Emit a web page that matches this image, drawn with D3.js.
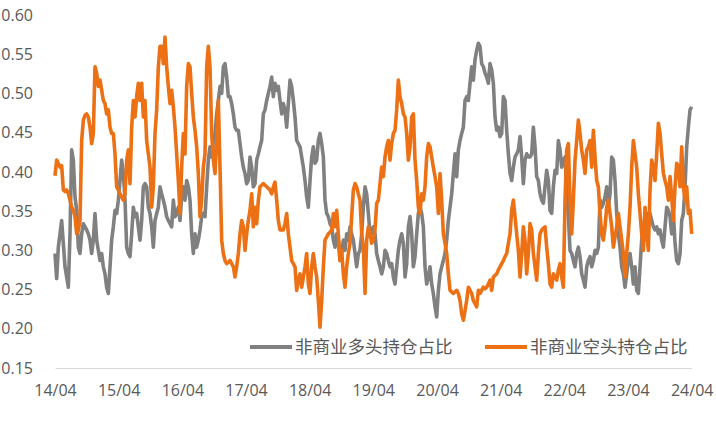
<!DOCTYPE html>
<html>
<head>
<meta charset="utf-8">
<script src="https://cdn.jsdelivr.net/npm/d3@7"></script>
<style>
  body { margin: 0; background: #fff; }
  text { font-family: "Open Sans", "Noto Sans CJK SC", sans-serif; fill: #595959; }
</style>
</head>
<body>
<div id="chart"></div>
<script>
// series: share of non-commercial long / short positions, evenly spaced from 2014-04 to 2024-04
const seriesNames = ["非商业多头持仓占比", "非商业空头持仓占比"];
const firstDate = "2014-04-01";
const lastDate = "2024-04-01";

const longShare = [
  0.296, 0.264, 0.304, 0.321, 0.338, 0.309, 0.279, 0.266, 0.253, 0.321,
  0.428, 0.415, 0.368, 0.351, 0.304, 0.296, 0.321, 0.334, 0.330, 0.326,
  0.321, 0.313, 0.296, 0.313, 0.347, 0.313, 0.300, 0.287, 0.296, 0.279,
  0.270, 0.253, 0.245, 0.279, 0.313, 0.330, 0.351, 0.347, 0.364, 0.389,
  0.415, 0.398, 0.364, 0.304, 0.296, 0.292, 0.321, 0.355, 0.343, 0.347,
  0.330, 0.313, 0.338, 0.381, 0.385, 0.381, 0.355, 0.347, 0.330, 0.304,
  0.338, 0.347, 0.355, 0.381, 0.372, 0.364, 0.355, 0.343, 0.338, 0.334,
  0.330, 0.364, 0.343, 0.347, 0.355, 0.338, 0.368, 0.381, 0.364, 0.389,
  0.381, 0.364, 0.321, 0.296, 0.321, 0.304, 0.313, 0.326, 0.343, 0.347,
  0.343, 0.381, 0.415, 0.432, 0.419, 0.440, 0.449, 0.474, 0.491, 0.509,
  0.500, 0.534, 0.538, 0.521, 0.496, 0.496, 0.487, 0.474, 0.457, 0.453,
  0.453, 0.436,
  0.419, 0.406, 0.398, 0.385, 0.389, 0.419, 0.406, 0.381, 0.385, 0.415,
  0.423, 0.432, 0.440, 0.474, 0.479, 0.491, 0.500, 0.509, 0.521, 0.496,
  0.513, 0.504, 0.509, 0.491, 0.474, 0.487, 0.479, 0.457, 0.487, 0.517,
  0.509, 0.491, 0.470, 0.440, 0.436, 0.432, 0.419, 0.406, 0.389, 0.368,
  0.355, 0.389, 0.419, 0.432, 0.411, 0.415, 0.440, 0.449, 0.436, 0.419,
  0.364, 0.347, 0.343, 0.334, 0.330, 0.313, 0.304, 0.321, 0.313, 0.287,
  0.296, 0.313, 0.300, 0.321, 0.313, 0.330, 0.321, 0.313, 0.296, 0.279,
  0.296, 0.300, 0.321, 0.355, 0.381, 0.372, 0.347, 0.321, 0.321, 0.330,
  0.321, 0.296, 0.287, 0.279, 0.270, 0.279, 0.300, 0.296, 0.287, 0.279,
  0.283, 0.266, 0.257, 0.279, 0.300, 0.313, 0.321, 0.309, 0.266, 0.283,
  0.330, 0.343, 0.321, 0.279, 0.292, 0.321, 0.347, 0.355, 0.347, 0.330,
  0.279, 0.257, 0.266, 0.279, 0.257, 0.245, 0.228, 0.215, 0.249, 0.270,
  0.279, 0.287, 0.296, 0.313, 0.338, 0.355, 0.372, 0.398, 0.423, 0.394,
  0.428, 0.440, 0.449, 0.457, 0.491, 0.496, 0.491, 0.513,
  0.534, 0.517, 0.543, 0.555, 0.564, 0.560, 0.538, 0.534, 0.526, 0.521,
  0.513, 0.538, 0.530, 0.513, 0.470, 0.453, 0.457, 0.445, 0.449, 0.496,
  0.491, 0.453, 0.423, 0.398, 0.389, 0.406, 0.419, 0.423, 0.428, 0.445,
  0.419, 0.385, 0.415, 0.423, 0.419, 0.419, 0.423, 0.457, 0.432, 0.394,
  0.389, 0.372, 0.364, 0.360, 0.381, 0.402, 0.389, 0.351, 0.347, 0.381,
  0.402, 0.398, 0.440, 0.428, 0.406, 0.415, 0.419, 0.381, 0.343, 0.300,
  0.296, 0.287, 0.279, 0.296, 0.304, 0.292, 0.270, 0.262, 0.253, 0.279,
  0.287, 0.292, 0.279, 0.287, 0.300, 0.296, 0.304, 0.364, 0.355, 0.360,
  0.368, 0.381, 0.355, 0.372, 0.419, 0.415, 0.389, 0.347, 0.321, 0.304,
  0.279, 0.270, 0.253, 0.270, 0.287, 0.296, 0.279, 0.257, 0.279, 0.249,
  0.245, 0.279, 0.313, 0.326, 0.343, 0.347, 0.343, 0.347, 0.338, 0.330,
  0.326, 0.330, 0.321, 0.326, 0.313, 0.304, 0.330, 0.355, 0.351, 0.343,
  0.321, 0.347, 0.309, 0.287, 0.283, 0.296, 0.338, 0.347, 0.381, 0.432,
  0.457, 0.479, 0.483
];

const shortShare = [
  0.395, 0.415, 0.411, 0.406, 0.408, 0.377, 0.375, 0.377, 0.372, 0.364,
  0.355, 0.351, 0.343, 0.321, 0.326, 0.338, 0.440, 0.466, 0.472, 0.474,
  0.470, 0.457, 0.436, 0.449, 0.534, 0.526, 0.509, 0.517, 0.504, 0.491,
  0.487, 0.474, 0.479, 0.457, 0.449, 0.449, 0.423, 0.381, 0.377, 0.372,
  0.368, 0.364, 0.372, 0.415, 0.428, 0.385, 0.457, 0.491, 0.470, 0.496,
  0.513, 0.491, 0.513, 0.470, 0.491, 0.440, 0.423, 0.406, 0.355, 0.381,
  0.449, 0.479, 0.534, 0.560, 0.560, 0.538, 0.572, 0.534, 0.509, 0.487,
  0.504, 0.483, 0.457, 0.423, 0.389, 0.347, 0.406, 0.449, 0.423, 0.509,
  0.538, 0.534, 0.500, 0.470, 0.453, 0.432, 0.398, 0.343, 0.364, 0.406,
  0.423, 0.534, 0.560, 0.534, 0.449, 0.415, 0.398, 0.440, 0.491, 0.406,
  0.313, 0.296, 0.287, 0.283, 0.285, 0.287, 0.283, 0.279, 0.266, 0.279,
  0.296, 0.321,
  0.338, 0.330, 0.300, 0.321, 0.338, 0.351, 0.372, 0.330, 0.355, 0.334,
  0.364, 0.381, 0.383, 0.385, 0.383, 0.381, 0.379, 0.377, 0.372, 0.381,
  0.387, 0.364, 0.338, 0.326, 0.326, 0.326, 0.334, 0.347, 0.321, 0.304,
  0.287, 0.283, 0.279, 0.249, 0.262, 0.270, 0.253, 0.266, 0.279, 0.296,
  0.257, 0.245, 0.279, 0.296, 0.279, 0.266, 0.236, 0.202, 0.236, 0.279,
  0.313, 0.317, 0.321, 0.323, 0.326, 0.347, 0.330, 0.351, 0.321, 0.287,
  0.300, 0.270, 0.253, 0.279, 0.296, 0.309, 0.343, 0.377, 0.385, 0.381,
  0.372, 0.364, 0.321, 0.304, 0.245, 0.313, 0.330, 0.321, 0.309, 0.313,
  0.326, 0.360, 0.364, 0.385, 0.406, 0.394, 0.419, 0.432, 0.440, 0.415,
  0.436, 0.449, 0.453, 0.479, 0.517, 0.496, 0.487, 0.474, 0.470, 0.449,
  0.415, 0.432, 0.470, 0.474, 0.415, 0.389, 0.355, 0.347, 0.372, 0.364,
  0.381, 0.419, 0.436, 0.432, 0.419, 0.406, 0.394, 0.381, 0.347, 0.398,
  0.364, 0.321, 0.309, 0.296, 0.270, 0.249, 0.247, 0.245, 0.247, 0.249,
  0.245, 0.236, 0.219, 0.211, 0.223, 0.236, 0.253, 0.249,
  0.245, 0.236, 0.232, 0.228, 0.249, 0.245, 0.249, 0.253, 0.251, 0.253,
  0.257, 0.262, 0.249, 0.266, 0.268, 0.270, 0.275, 0.279, 0.283, 0.287,
  0.292, 0.296, 0.309, 0.321, 0.351, 0.364, 0.343, 0.321, 0.300, 0.266,
  0.296, 0.330, 0.313, 0.270, 0.296, 0.334, 0.326, 0.296, 0.279, 0.262,
  0.296, 0.321, 0.326, 0.328, 0.330, 0.304, 0.283, 0.257, 0.253, 0.270,
  0.266, 0.262, 0.275, 0.283, 0.266, 0.253, 0.364, 0.428, 0.436, 0.364,
  0.321, 0.364, 0.415, 0.440, 0.466, 0.449, 0.428, 0.415, 0.398, 0.428,
  0.432, 0.440, 0.406, 0.453, 0.419, 0.389, 0.381, 0.347, 0.321, 0.313,
  0.330, 0.355, 0.364, 0.347, 0.330, 0.304, 0.317, 0.330, 0.347, 0.330,
  0.313, 0.296, 0.266, 0.296, 0.321, 0.355, 0.406, 0.440, 0.423, 0.406,
  0.372, 0.347, 0.321, 0.300, 0.355, 0.321, 0.300, 0.377, 0.415, 0.406,
  0.389, 0.423, 0.462, 0.449, 0.423, 0.398, 0.389, 0.381, 0.364, 0.394,
  0.368, 0.338, 0.381, 0.411, 0.406, 0.381, 0.432, 0.381, 0.364, 0.381,
  0.347, 0.351, 0.321
];

const yTicks = [0.15, 0.20, 0.25, 0.30, 0.35, 0.40, 0.45, 0.50, 0.55, 0.60];
const xTickDates = ["2014-04-01", "2015-04-01", "2016-04-01", "2017-04-01", "2018-04-01",
  "2019-04-01", "2020-04-01", "2021-04-01", "2022-04-01", "2023-04-01", "2024-04-01"];

const colors = ["#808080", "#ec7014"];

const parseDate = d3.timeParse("%Y-%m-%d");
const formatTick = d3.timeFormat("%y/%m");

const W = 716, H = 424;
const PLOT = {LEFT: 55, RIGHT: 691.7, TOP: 15, BOTTOM: 368};

const svg = d3.select("#chart").append("svg")
  .attr("width", W)
  .attr("height", H);

// samples are evenly spaced between the first and last date
const t0 = parseDate(firstDate).getTime();
const t1 = parseDate(lastDate).getTime();
const idxToTime = d3.scaleLinear().domain([0, longShare.length - 1]).range([t0, t1]);
const dates = longShare.map((d, i) => new Date(idxToTime(i)));

const x = d3.scaleTime()
  .domain([parseDate(firstDate), parseDate(lastDate)])
  .range([PLOT.LEFT, PLOT.RIGHT]);
const y = d3.scaleLinear()
  .domain([0.15, 0.60])
  .range([PLOT.BOTTOM, PLOT.TOP]);

// x axis
const xAxis = svg.append("g")
  .attr("transform", `translate(0, ${PLOT.BOTTOM})`)
  .call(d3.axisBottom(x)
    .tickValues(xTickDates.map(parseDate))
    .tickFormat(formatTick)
    .tickSize(0)
    .tickPadding(17));
xAxis.select(".domain").attr("stroke", "#d9d9d9").attr("stroke-width", 1.2);
xAxis.selectAll("text").style("font-size", "16px").attr("fill", "#595959");

// y axis
const yAxis = svg.append("g")
  .attr("transform", `translate(${PLOT.LEFT}, 0)`)
  .call(d3.axisLeft(y)
    .tickValues(yTicks)
    .tickFormat(d3.format(".2f"))
    .tickSize(0)
    .tickPadding(22));
yAxis.select(".domain").remove();
yAxis.selectAll("text").style("font-size", "16px").attr("fill", "#595959");

const line = d3.line()
  .x((d, i) => x(dates[i]))
  .y(d => y(d));

[longShare, shortShare].forEach((s, k) => {
  svg.append("path")
    .datum(s)
    .attr("fill", "none")
    .attr("stroke", colors[k])
    .attr("stroke-width", 3.6)
    .attr("stroke-linejoin", "round")
    .attr("d", line);
});

// legend
const legendX = [250, 485];
const legend = svg.append("g");
seriesNames.forEach((name, k) => {
  const g = legend.append("g").attr("transform", `translate(${legendX[k]}, 347)`);
  g.append("line")
    .attr("x1", 0).attr("x2", 42)
    .attr("stroke", colors[k])
    .attr("stroke-width", 4);
  g.append("text")
    .attr("x", 45)
    .attr("dy", "0.35em")
    .style("font-size", "17.5px")
    .style("font-family", "'Noto Sans CJK SC', sans-serif")
    .text(name);
});
</script>
</body>
</html>
